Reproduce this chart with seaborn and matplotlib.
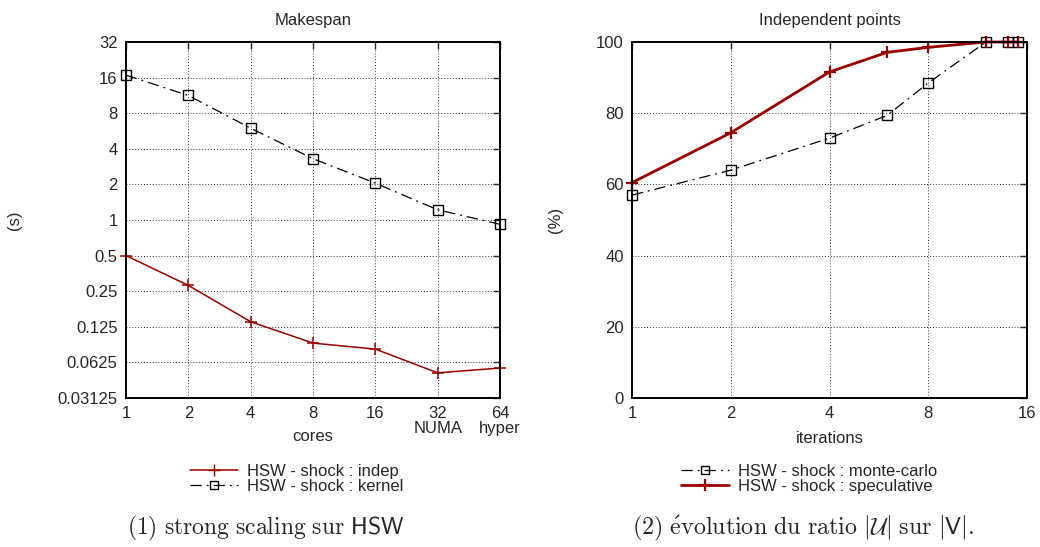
import numpy as np
import pandas as pd
import seaborn as sns
import matplotlib
matplotlib.use("Agg")
import matplotlib.pyplot as plt
from matplotlib.lines import Line2D

# left panel: makespan vs cores
cores = [1, 2, 4, 8, 16, 32, 64]
core_labels = ["1", "2", "4", "8", "16", "32\nNUMA", "64\nhyper"]
indep_s = [0.5, 0.28, 0.138, 0.091, 0.081, 0.051, 0.056]
kernel_s = [16.8, 11.3, 5.97, 3.3, 2.05, 1.22, 0.92]
makespan_ticks = [0.03125, 0.0625, 0.125, 0.25, 0.5, 1, 2, 4, 8, 16, 32]
makespan_tick_labels = ["0.03125", "0.0625", "0.125", "0.25", "0.5", "1", "2", "4", "8", "16", "32"]

# right panel: independent points vs iterations
iterations = [1, 2, 4, 6, 8, 12, 14, 15]
montecarlo_pct = [57.0, 64.0, 73.0, 79.4, 88.5, 100, 100, 100]
speculative_pct = [60.5, 74.5, 91.6, 97.1, 98.5, 100, 100, 100]
iter_ticks = [1, 2, 4, 8, 16]
pct_ticks = [0, 20, 40, 60, 80, 100]

DARKRED = "#9a0000"
DASHDOT = (0, (9, 4, 1.5, 4))
FS = 12

sns.set_style("white")
plt.rcParams["font.family"] = ["Liberation Sans", "DejaVu Sans"]
plt.rcParams["font.size"] = FS
plt.rcParams["mathtext.fontset"] = "cm"

fig = plt.figure(figsize=(10.4, 5.47), dpi=100)
ax1 = fig.add_axes([126 / 1040, 1 - 398 / 547, (500 - 126) / 1040, (398 - 42) / 547])
ax2 = fig.add_axes([632 / 1040, 1 - 398 / 547, (1027 - 632) / 1040, (398 - 42) / 547])


def style_axes(ax):
    for sp in ax.spines.values():
        sp.set_linewidth(1.4)
        sp.set_color("black")
    ax.grid(True, which="major", linestyle=(0, (1, 2)), color="#333333", linewidth=0.7)
    ax.minorticks_off()
    ax.tick_params(which="major", direction="in", length=5, width=1.0,
                   top=True, right=True, pad=6, labelsize=FS)


left = pd.DataFrame({"cores": cores, "indep": indep_s, "kernel": kernel_s})
sns.lineplot(data=left, x="cores", y="indep", ax=ax1, color=DARKRED, linewidth=1.1,
             marker="+", markersize=8, markeredgewidth=1.1, markeredgecolor=DARKRED,
             clip_on=False)
sns.lineplot(data=left, x="cores", y="kernel", ax=ax1, color="black", linewidth=0.9,
             linestyle=DASHDOT, marker="s", markersize=7, markerfacecolor="none",
             markeredgecolor="black", markeredgewidth=1.0, clip_on=False)
ax1.set_xscale("log", base=2)
ax1.set_yscale("log", base=2)
ax1.set_xlim(1, 64)
ax1.set_ylim(0.03125, 32)
ax1.set_xticks(cores)
ax1.set_xticklabels(core_labels, linespacing=0.95)
ax1.set_yticks(makespan_ticks)
ax1.set_yticklabels(makespan_tick_labels)
style_axes(ax1)
ax1.set_title("Makespan", fontsize=FS, pad=12)
ax1.set_xlabel("cores", fontsize=FS, labelpad=-5)
ax1.set_ylabel("(s)", fontsize=FS)
ax1.yaxis.set_label_coords(-0.278, 0.5)

right = pd.DataFrame({"iterations": iterations, "montecarlo": montecarlo_pct,
                      "speculative": speculative_pct})
sns.lineplot(data=right, x="iterations", y="montecarlo", ax=ax2, color="black", linewidth=0.9,
             linestyle=DASHDOT, marker="s", markersize=7, markerfacecolor="none",
             markeredgecolor="black", markeredgewidth=1.0, clip_on=False)
sns.lineplot(data=right, x="iterations", y="speculative", ax=ax2, color=DARKRED, linewidth=2.0,
             marker="+", markersize=8, markeredgewidth=1.6, markeredgecolor=DARKRED,
             clip_on=False)
ax2.set_xscale("log", base=2)
ax2.set_xlim(1, 16)
ax2.set_ylim(0, 100)
ax2.set_xticks(iter_ticks)
ax2.set_xticklabels([str(t) for t in iter_ticks])
ax2.set_yticks(pct_ticks)
ax2.set_yticklabels([str(t) for t in pct_ticks])
style_axes(ax2)
ax2.set_title("Independent points", fontsize=FS, pad=12)
ax2.set_xlabel("iterations", fontsize=FS, labelpad=7)
ax2.set_ylabel("(%)", fontsize=FS)
ax2.yaxis.set_label_coords(-0.175, 0.5)

h_indep = Line2D([], [], color=DARKRED, linewidth=1.1, marker="+", markersize=8,
                 markeredgecolor=DARKRED)
h_kernel = Line2D([], [], color="black", linewidth=0.9, linestyle=DASHDOT, marker="s",
                  markersize=6, markerfacecolor="none")
fig.legend([h_indep, h_kernel], ["HSW - shock : indep", "HSW - shock : kernel"],
           loc="upper left", bbox_to_anchor=(178 / 1040, 1 - 452 / 547), frameon=False,
           handlelength=2.9, labelspacing=0.0, fontsize=FS, handletextpad=0.55,
           borderpad=0.2)

h_mc = Line2D([], [], color="black", linewidth=0.9, linestyle=DASHDOT, marker="s",
              markersize=6, markerfacecolor="none")
h_spec = Line2D([], [], color=DARKRED, linewidth=2.0, marker="+", markersize=8,
                markeredgewidth=1.6, markeredgecolor=DARKRED)
fig.legend([h_mc, h_spec], ["HSW - shock : monte-carlo", "HSW - shock : speculative"],
           loc="upper left", bbox_to_anchor=(669 / 1040, 1 - 452 / 547), frameon=False,
           handlelength=2.9, labelspacing=0.0, fontsize=FS, handletextpad=0.55,
           borderpad=0.2)

fig.text(266 / 1040, 1 - 528 / 547,
         r"$\mathrm{(1)\ strong\ scaling\ sur\ }\mathsf{HSW}$",
         ha="center", va="center", fontsize=17)
fig.text(803 / 1040, 1 - 528 / 547,
         r"$\mathrm{(2)\ \acute{e}volution\ du\ ratio\ }|\mathcal{U}|\mathrm{\ sur\ }|\mathsf{V}|.$",
         ha="center", va="center", fontsize=17.3)

fig.savefig("out.png", dpi=100)
